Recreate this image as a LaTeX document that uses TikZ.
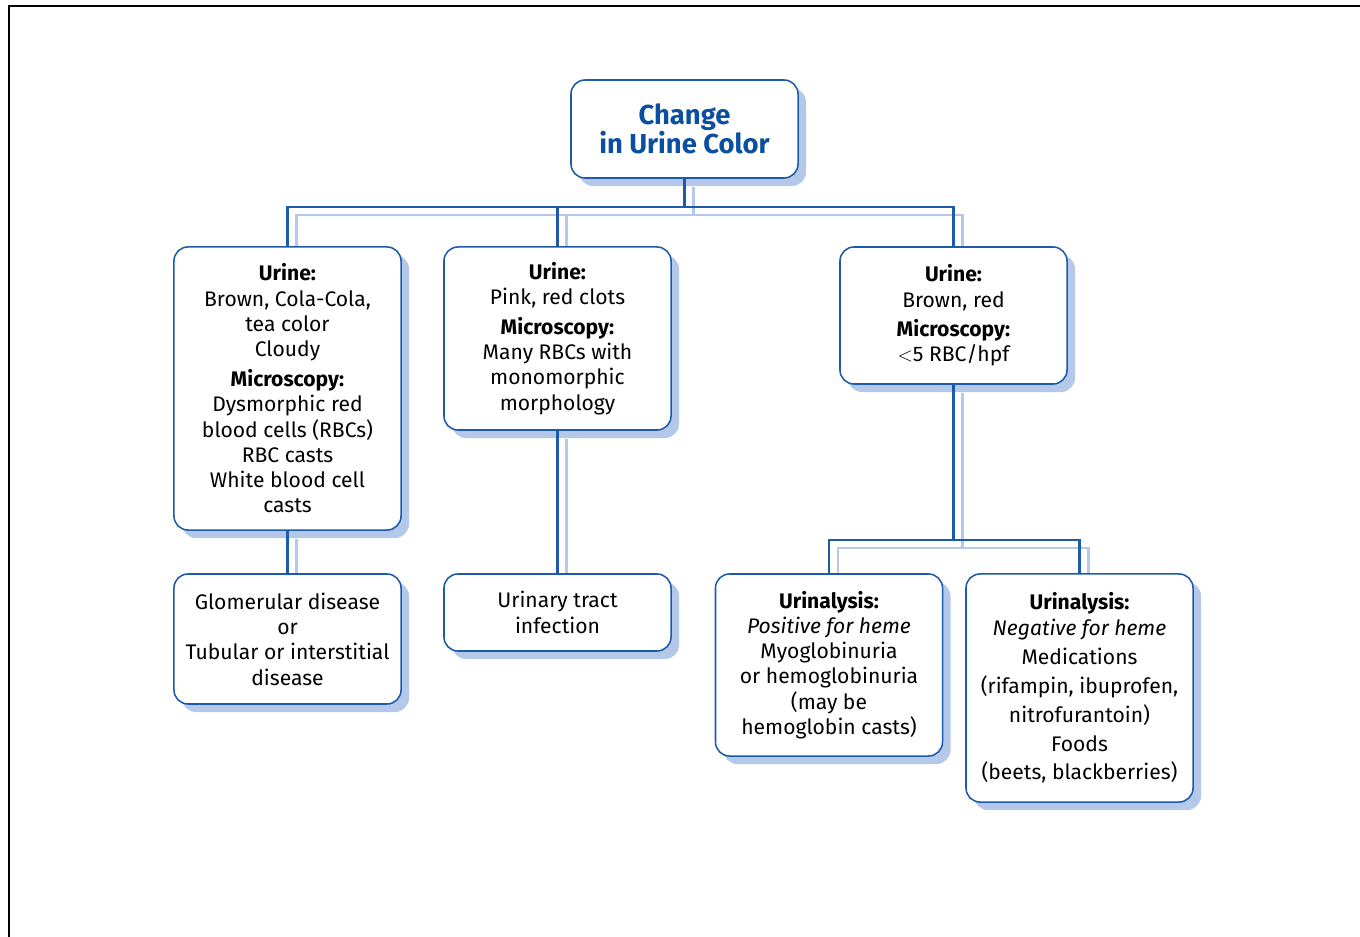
\documentclass[tikz,border=0pt]{standalone}
\usepackage{fontspec}
\setmainfont{Fira Sans}
\usetikzlibrary{shadows,positioning}
\definecolor{titleblue}{HTML}{0B4FA0}
\definecolor{lineblue}{HTML}{1D5BAA}
\definecolor{shadeblue}{HTML}{B4C9E9}

\begin{document}
\begin{tikzpicture}[x=0.025cm,y=-0.025cm,
    card/.style={draw=lineblue,line width=1.1pt,fill=white,rounded corners=10pt,
        align=center,minimum width=5.675cm,inner sep=0pt,
        font=\fontsize{15}{18}\selectfont,
        drop shadow={shadow xshift=0.2cm,shadow yshift=-0.2cm,fill=shadeblue,opacity=1}},
    link/.style={lineblue,line width=1.5pt},
    linkshade/.style={shadeblue,line width=1.5pt}]
        \useasboundingbox (0,0) rectangle (1360,937);
        \draw [line width=2.1pt] (9,937) -- (9,6) -- (1360,6);

        \node [card,minimum height=2.45cm,text=titleblue,font=\fontsize{19.5}{21}\selectfont\bfseries] (root) at (684.5,129) {Change\\in Urine Color};

        \node [card,minimum height=7.075cm] (cola) at (287.5,388.5) {\textbf{Urine:}\\Brown, Cola-Cola,\\tea color\\Cloudy\\[3pt]\textbf{Microscopy:}\\Dysmorphic red\\blood cells (RBCs)\\RBC casts\\White blood cell\\casts};
        \node [card,minimum height=4.575cm] (pink) at (557.5,338.5) {\textbf{Urine:}\\Pink, red clots\\[3pt]\textbf{Microscopy:}\\Many RBCs with\\monomorphic\\morphology};
        \node [card,minimum height=3.425cm] (brown) at (953.5,315.5) {\textbf{Urine:}\\Brown, red\\[3pt]\textbf{Microscopy:}\\$<$5 RBC/hpf};

        \node [card,minimum height=3.25cm] (glom) at (287.5,639) {Glomerular disease\\or\\Tubular or interstitial\\disease};
        \node [card,minimum height=1.925cm] (uti) at (557.5,612.5) {Urinary tract\\infection};
        \node [card,minimum height=4.55cm] (pos) at (829,665) {\textbf{Urinalysis:}\\\textit{Positive for heme}\\Myoglobinuria\\or hemoglobinuria\\(may be\\hemoglobin casts)};
        \node [card,minimum height=5.7cm] (neg) at (1079.5,688) {\textbf{Urinalysis:}\\\textit{Negative for heme}\\[3pt]Medications\\[2.5pt](rifampin, ibuprofen,\\[2.5pt]nitrofurantoin)\\[2.5pt]Foods\\[2.5pt](beets, blackberries)};

        \draw [linkshade] ([shift={(9,8)}]root.south) -- ++(0,28) -| ([shift={(9,0)}]cola.north);
        \draw [linkshade] ([shift={(9,8)}]root.south) -- ++(0,28) -| ([shift={(9,0)}]pink.north);
        \draw [linkshade] ([shift={(9,8)}]root.south) -- ++(0,28) -| ([shift={(9,0)}]brown.north);
        \draw [linkshade] ([shift={(9,8)}]cola.south) -- ([shift={(9,0)}]glom.north);
        \draw [linkshade] ([shift={(9,8)}]pink.south) -- ([shift={(9,0)}]uti.north);
        \draw [linkshade] ([shift={(9,8)}]brown.south) -- ++(0,155) -| ([shift={(9,0)}]pos.north);
        \draw [linkshade] ([shift={(9,8)}]brown.south) -- ++(0,155) -| ([shift={(9,0)}]neg.north);

        \draw [link] (root.south) -- ++(0,28) -| (cola.north);
        \draw [link] (root.south) -- ++(0,28) -| (pink.north);
        \draw [link] (root.south) -- ++(0,28) -| (brown.north);
        \draw [link] (cola) -- (glom);
        \draw [link] (pink) -- (uti);
        \draw [link] (brown.south) -- ++(0,155) -| (pos.north);
        \draw [link] (brown.south) -- ++(0,155) -| (neg.north);
    \end{tikzpicture}
\end{document}
